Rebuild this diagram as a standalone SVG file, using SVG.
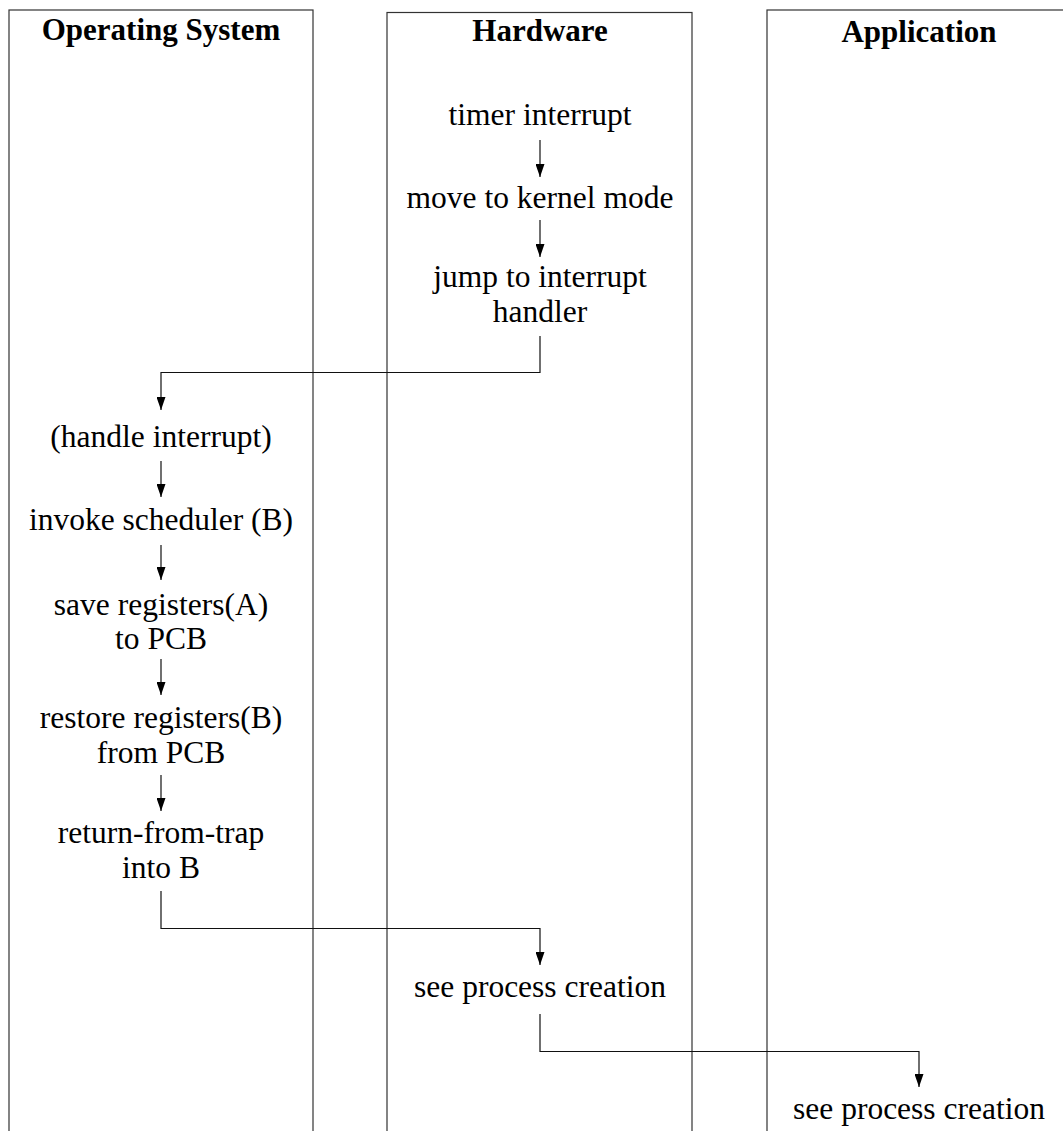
<svg xmlns="http://www.w3.org/2000/svg" width="1063" height="1131" viewBox="0 0 1063 1131">
<style>
.lane{fill:none;stroke:#333;stroke-width:1.2}
.hd{font-family:"Liberation Serif","Times New Roman",serif;font-weight:bold;font-size:31px;text-anchor:middle;fill:#000}
.tx{font-family:"Liberation Serif","Times New Roman",serif;font-size:31.5px;text-anchor:middle;fill:#000}
.cn{fill:none;stroke:#111;stroke-width:1.2}
</style>
<defs>
<marker id="ah" markerUnits="userSpaceOnUse" markerWidth="13" markerHeight="9" refX="13" refY="4.5" orient="auto" viewBox="0 0 13 9">
<path d="M0,0 L13,4.5 L0,9 Z" fill="#000"/>
</marker>
</defs>
<rect width="1063" height="1131" fill="#fff"/>
<g id="lane-os">
<rect class="lane" x="9" y="10" width="304" height="1200"/>
<text class="hd" x="161" y="40">Operating System</text>
</g>
<g id="lane-hw">
<rect class="lane" x="387" y="12.5" width="305" height="1200"/>
<text class="hd" x="540" y="41">Hardware</text>
</g>
<g id="lane-app">
<rect class="lane" x="767" y="10" width="304" height="1200"/>
<text class="hd" x="919" y="41.5">Application</text>
</g>
<g id="n-timer"><text class="tx" x="540" y="125">timer interrupt</text></g>
<g id="n-kernel"><text class="tx" x="540" y="208">move to kernel mode</text></g>
<g id="n-jump"><text class="tx" x="540" y="287">jump to interrupt</text><text class="tx" x="540" y="322">handler</text></g>
<g id="n-handle"><text class="tx" x="161" y="447">(handle interrupt)</text></g>
<g id="n-sched"><text class="tx" x="161" y="530">invoke scheduler (B)</text></g>
<g id="n-save"><text class="tx" x="161" y="615">save registers(A)</text><text class="tx" x="161" y="649">to PCB</text></g>
<g id="n-restore"><text class="tx" x="161" y="728">restore registers(B)</text><text class="tx" x="161" y="763">from PCB</text></g>
<g id="n-rft"><text class="tx" x="161" y="843">return-from-trap</text><text class="tx" x="161" y="878">into B</text></g>
<g id="n-hw-see"><text class="tx" x="540" y="997">see process creation</text></g>
<g id="n-app-see"><text class="tx" x="919" y="1119">see process creation</text></g>
<g id="connectors">
<path class="cn" d="M540,140 V177" marker-end="url(#ah)"/>
<path class="cn" d="M540,220 V257" marker-end="url(#ah)"/>
<path class="cn" d="M540,336 V372.5 H161 V410" marker-end="url(#ah)"/>
<path class="cn" d="M161,461 V497" marker-end="url(#ah)"/>
<path class="cn" d="M161,545 V580" marker-end="url(#ah)"/>
<path class="cn" d="M161,659 V695" marker-end="url(#ah)"/>
<path class="cn" d="M161,775 V811" marker-end="url(#ah)"/>
<path class="cn" d="M161,891 V928.5 H540 V965" marker-end="url(#ah)"/>
<path class="cn" d="M540,1014 V1051.5 H919 V1087" marker-end="url(#ah)"/>
</g>
</svg>
